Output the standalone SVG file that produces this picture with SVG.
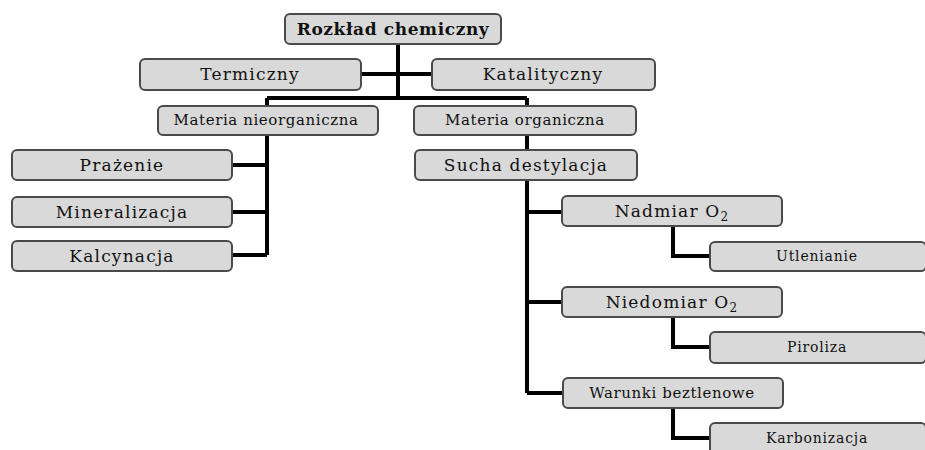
<svg xmlns="http://www.w3.org/2000/svg" width="925" height="450" viewBox="0 0 925 450">
<style>
.box{fill:#d9d9d9;stroke:#4a4a4a;stroke-width:2}
.t{font-family:"DejaVu Serif","Liberation Serif",serif;fill:#111;text-anchor:middle}
.l{font-size:17px;letter-spacing:1.2px}
.m{font-size:15px;letter-spacing:0.6px}
.s{font-size:14px;letter-spacing:0.8px}
.conn{fill:none;stroke:#000;stroke-width:4}
</style>
<rect width="925" height="450" fill="#fff"/>
<g id="connectors" class="conn">
<path d="M398,44 V98"/>
<path d="M361,74 H432"/>
<path d="M267,98 H527 M267,98 V106 M527,98 V106"/>
<path d="M267,135 V255 M232,165 H267 M232,212 H267 M232,255 H267"/>
<path d="M527,135 V150"/>
<path d="M527,180 V393 M527,212 H562 M527,302 H562 M527,393 H563"/>
<path d="M673,226 V256 H710"/>
<path d="M673,317 V347 H710"/>
<path d="M673,408 V438 H710"/>
</g>
<g id="n-root"><rect class="box" x="285" y="14" width="216" height="30" rx="5"/><text class="t" x="393" y="35" font-size="17" font-weight="bold" letter-spacing="0.6">Rozkład chemiczny</text></g>
<g id="n-termiczny"><rect class="box" x="140" y="59" width="221" height="31" rx="5"/><text class="t l" x="250" y="80">Termiczny</text></g>
<g id="n-katalityczny"><rect class="box" x="432" y="59" width="223" height="31" rx="5"/><text class="t l" x="543" y="80">Katalityczny</text></g>
<g id="n-nieorg"><rect class="box" x="158" y="106" width="220" height="29" rx="5"/><text class="t m" x="266" y="125">Materia nieorganiczna</text></g>
<g id="n-org"><rect class="box" x="414" y="106" width="222" height="29" rx="5"/><text class="t m" x="525" y="125">Materia organiczna</text></g>
<g id="n-prazenie"><rect class="box" x="12" y="150" width="220" height="30" rx="5"/><text class="t l" x="122" y="171">Prażenie</text></g>
<g id="n-mineral"><rect class="box" x="12" y="197" width="220" height="30" rx="5"/><text class="t l" x="122" y="218">Mineralizacja</text></g>
<g id="n-kalcyn"><rect class="box" x="12" y="241" width="220" height="30" rx="5"/><text class="t l" x="122" y="262">Kalcynacja</text></g>
<g id="n-sucha"><rect class="box" x="415" y="150" width="222" height="30" rx="5"/><text class="t l" x="526" y="171">Sucha destylacja</text></g>
<g id="n-nadmiar"><rect class="box" x="562" y="196" width="220" height="30" rx="5"/><text class="t l" x="672" y="217">Nadmiar O<tspan font-size="12" dy="4">2</tspan></text></g>
<g id="n-utlenianie"><rect class="box" x="710" y="242" width="216" height="29" rx="5"/><text class="t s" x="817" y="261">Utlenianie</text></g>
<g id="n-niedomiar"><rect class="box" x="562" y="287" width="220" height="30" rx="5"/><text class="t l" x="672" y="308">Niedomiar O<tspan font-size="12" dy="4">2</tspan></text></g>
<g id="n-piroliza"><rect class="box" x="710" y="332" width="216" height="31" rx="5"/><text class="t s" x="817" y="352" letter-spacing="1.4">Piroliza</text></g>
<g id="n-warunki"><rect class="box" x="563" y="378" width="220" height="30" rx="5"/><text class="t m" x="672" y="398" letter-spacing="1">Warunki beztlenowe</text></g>
<g id="n-karbon"><rect class="box" x="710" y="423" width="216" height="32" rx="5"/><text class="t s" x="817" y="443">Karbonizacja</text></g>
</svg>
